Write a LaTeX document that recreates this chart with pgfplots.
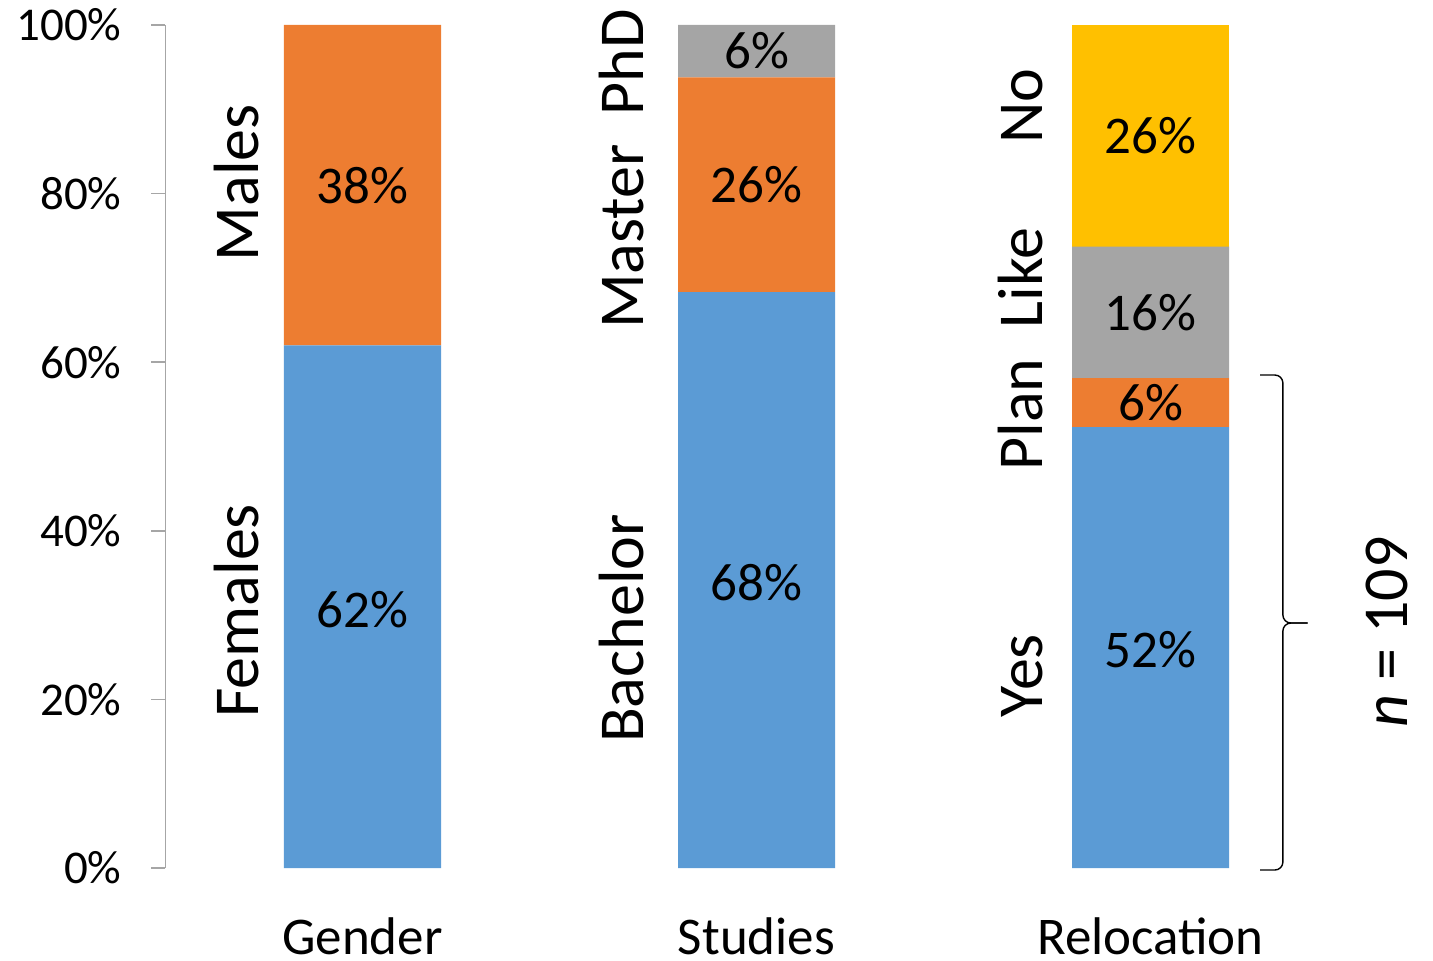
\documentclass[border=0pt]{standalone}
\usepackage{fontspec}
\setmainfont{Carlito}
\usepackage{pgfplots}
\pgfplotsset{compat=1.18}
\definecolor{cblue}{HTML}{5B9BD5}
\definecolor{corange}{HTML}{ED7D31}
\definecolor{cgray}{HTML}{A5A5A5}
\definecolor{cgold}{HTML}{FFC000}
\definecolor{axgray}{HTML}{A6A6A6}
\tikzset{
  vlab/.style={font=\fontsize{26.5}{30}\selectfont, inner sep=0pt},
  clab/.style={font=\fontsize{32}{36}\selectfont, inner sep=0pt, rotate=90, anchor=base},
}
\begin{document}
\begin{tikzpicture}
\useasboundingbox (-82.75pt,-46pt) rectangle (633.75pt,434pt);
\begin{axis}[
  at={(0,0)}, anchor=south west,
  width=591pt, height=421.5pt, scale only axis,
  xmin=-0.5, xmax=2.5, ymin=0, ymax=100,
  clip=false,
  ybar stacked, bar width=78.5pt,
  axis y line*=left, axis x line*=bottom,
  x axis line style={draw=none},
  y axis line style={draw=axgray, line width=0.75pt},
  ytick={0,20,40,60,80,100},
  yticklabels={0\%,20\%,40\%,60\%,80\%,100\%},
  ytick style={draw=axgray, line width=0.75pt},
  tick align=outside, major tick length=7pt,
  xtick={0,1,2}, xticklabels={Gender,Studies,Relocation},
  xtick style={draw=none},
  yticklabel style={font=\fontsize{23.5}{26}\selectfont, anchor=east, xshift=-11.5pt},
  xticklabel style={font=\fontsize{26.5}{30}\selectfont, anchor=base, inner sep=0pt, text depth=0pt, yshift=-36pt},
  after end axis/.code={
    \node[vlab] at (axis cs:0,30.6) {62\%};
    \node[vlab] at (axis cs:0,81) {38\%};
    \node[vlab] at (axis cs:1,33.9) {68\%};
    \node[vlab] at (axis cs:1,81.05) {26\%};
    \node[vlab] at (axis cs:1,96.9) {6\%};
    \node[vlab] at (axis cs:2,25.9) {52\%};
    \node[vlab] at (axis cs:2,55.2) {6\%};
    \node[vlab] at (axis cs:2,65.9) {16\%};
    \node[vlab] at (axis cs:2,86.85) {26\%};
  },
]
\addplot[fill=cblue, draw=none] coordinates {(0,62) (1,68.3) (2,52.3)};
\addplot[fill=corange, draw=none] coordinates {(0,38) (1,25.5) (2,5.8)};
\addplot[fill=cgray, draw=none] coordinates {(0,0) (1,6.2) (2,15.6)};
\addplot[fill=cgold, draw=none] coordinates {(0,0) (1,0) (2,26.3)};

\node[clab] at (axis cs:-0.265,30.5) {Females};
\node[clab] at (axis cs:-0.265,81.3) {Males};
\node[clab] at (axis cs:0.712,28.4) {Bachelor};
\node[clab] at (axis cs:0.712,74.9) {Master};
\node[clab] at (axis cs:0.712,95.6) {PhD};
\node[clab] at (axis cs:1.725,22.8) {Yes};
\node[clab] at (axis cs:1.725,53.8) {Plan};
\node[clab] at (axis cs:1.725,70.0) {Like};
\node[clab] at (axis cs:1.725,90.4) {No};
\node[clab] at (axis cs:2.651,28.0) {\textit{n} = 109};

\draw[line width=0.7pt, rounded corners=4pt]
  (axis cs:2.278,58.48) -- (axis cs:2.336,58.48) -- (axis cs:2.336,29.06) -- (axis cs:2.399,29.06);
\draw[line width=0.7pt, rounded corners=4pt]
  (axis cs:2.399,29.06) -- (axis cs:2.336,29.06) -- (axis cs:2.336,-0.24) -- (axis cs:2.278,-0.24);
\end{axis}
\end{tikzpicture}
\end{document}
